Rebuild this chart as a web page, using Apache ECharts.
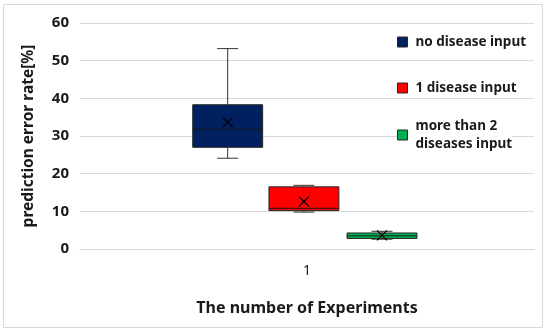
<!DOCTYPE html>
<html>
<head>
<meta charset="utf-8">
<script src="https://cdn.jsdelivr.net/npm/echarts@6/dist/echarts.min.js"></script>
<style>html,body{margin:0;padding:0;background:#fff}#c{width:550px;height:335px}</style>
</head>
<body>
<div id="c"></div>
<script>
// ---- data ----
const categories = ['1'];
const seriesNames = ['no disease input', '1 disease input', 'more than 2\ndiseases input'];
// [min, Q1, median, Q3, max, mean]
const noDisease = [24.1, 27.0, 31.8, 38.3, 53.2, 33.6];
const oneDisease = [9.8, 10.2, 10.8, 16.5, 16.9, 12.6];
const twoPlus = [2.6, 2.8, 3.5, 4.25, 4.7, 3.6];
const yTicks = [0, 10, 20, 30, 40, 50, 60];

// ---- style ----
const FONT = 'Noto Sans';
const colors = ['#002060', '#ff0000', '#00b050'];
const offsets = [-0.1747, -0.0068, 0.1652];
const boxRatio = 0.154;
const capRatio = 0.3;

function makeSeries(name, stats, idx) {
  return {
    type: 'custom',
    name: name,
    itemStyle: { color: colors[idx], borderColor: '#262626', borderWidth: 1 },
    encode: { x: 0, y: [1, 2, 3, 4, 5, 6] },
    data: [[0].concat(stats)],
    renderItem: function (params, api) {
      const x = api.value(0);
      const base = api.coord([x, 0]);
      const band = api.size([1, 0])[0];
      const cx = base[0] + offsets[idx] * band;
      const w = band * boxRatio;
      const cw = w * capRatio;
      const y = (k) => api.coord([x, api.value(k)])[1];
      const yMin = y(1), yQ1 = y(2), yMed = y(3), yQ3 = y(4), yMax = y(5), yMean = y(6);
      const line = { stroke: '#333333', lineWidth: 1 };
      const ms = 5;
      return {
        type: 'group',
        children: [
          { type: 'line', shape: { x1: cx, y1: yMax, x2: cx, y2: yQ3 }, style: line },
          { type: 'line', shape: { x1: cx, y1: yQ1, x2: cx, y2: yMin }, style: line },
          { type: 'line', shape: { x1: cx - cw / 2, y1: yMax, x2: cx + cw / 2, y2: yMax }, style: line },
          { type: 'line', shape: { x1: cx - cw / 2, y1: yMin, x2: cx + cw / 2, y2: yMin }, style: line },
          { type: 'rect', shape: { x: cx - w / 2, y: yQ3, width: w, height: yQ1 - yQ3 },
            style: { fill: colors[idx], stroke: '#262626', lineWidth: 1 } },
          { type: 'line', shape: { x1: cx - w / 2, y1: yMed, x2: cx + w / 2, y2: yMed }, style: { stroke: '#1a1a1a', lineWidth: 1 } },
          { type: 'line', shape: { x1: cx - ms, y1: yMean - ms, x2: cx + ms, y2: yMean + ms }, style: { stroke: '#000', lineWidth: 1.2 } },
          { type: 'line', shape: { x1: cx - ms, y1: yMean + ms, x2: cx + ms, y2: yMean - ms }, style: { stroke: '#000', lineWidth: 1.2 } }
        ]
      };
    }
  };
}

const legendTops = [33, 79, 117];
const legends = seriesNames.map((n, i) => ({
  data: [n],
  orient: 'vertical',
  left: 397,
  top: legendTops[i],
  padding: 0,
  backgroundColor: '#fff',
  itemWidth: 10,
  itemHeight: 10,
  itemGap: 0,
  icon: 'rect',
  selectedMode: false,
  itemStyle: { borderColor: '#262626', borderWidth: 1 },
  textStyle: { fontFamily: FONT, fontWeight: 'bold', fontSize: 13.5, color: '#1a1a1a', lineHeight: 18, padding: [0, 0, 0, 3] }
}));

const chart = echarts.init(document.getElementById('c'), null, { renderer: 'canvas' });
chart.setOption({
  animation: false,
  backgroundColor: '#fff',
  textStyle: { fontFamily: FONT },
  graphic: [{
    type: 'rect', shape: { x: 3.5, y: 4.5, width: 539, height: 323 },
    style: { fill: 'none', stroke: '#d9d9d9', lineWidth: 1 }, z: -1
  }],
  grid: { left: 80, right: 16, top: 23, bottom: 86 },
  legend: legends,
  xAxis: {
    type: 'category',
    data: categories,
    name: 'The number of Experiments',
    nameLocation: 'middle',
    nameGap: 51,
    nameTextStyle: { fontFamily: FONT, fontWeight: 'bold', fontSize: 16, color: '#1a1a1a' },
    axisLine: { show: true, lineStyle: { color: '#d9d9d9' } },
    axisTick: { show: false },
    axisLabel: { margin: 15, fontSize: 14, color: '#1a1a1a', fontFamily: FONT }
  },
  yAxis: {
    type: 'value',
    min: yTicks[0],
    max: yTicks[yTicks.length - 1],
    interval: 10,
    name: 'prediction error rate[%]',
    nameLocation: 'middle',
    nameGap: 43,
    nameTextStyle: { fontFamily: FONT, fontWeight: 'bold', fontSize: 15.5, color: '#1a1a1a' },
    axisLine: { show: false },
    axisTick: { show: false },
    axisLabel: { margin: 11, fontSize: 15, fontWeight: 'bold', color: '#1a1a1a', fontFamily: FONT },
    splitLine: { lineStyle: { color: '#d9d9d9', width: 1 } }
  },
  series: [
    makeSeries(seriesNames[0], noDisease, 0),
    makeSeries(seriesNames[1], oneDisease, 1),
    makeSeries(seriesNames[2], twoPlus, 2)
  ]
});
</script>
</body>
</html>
